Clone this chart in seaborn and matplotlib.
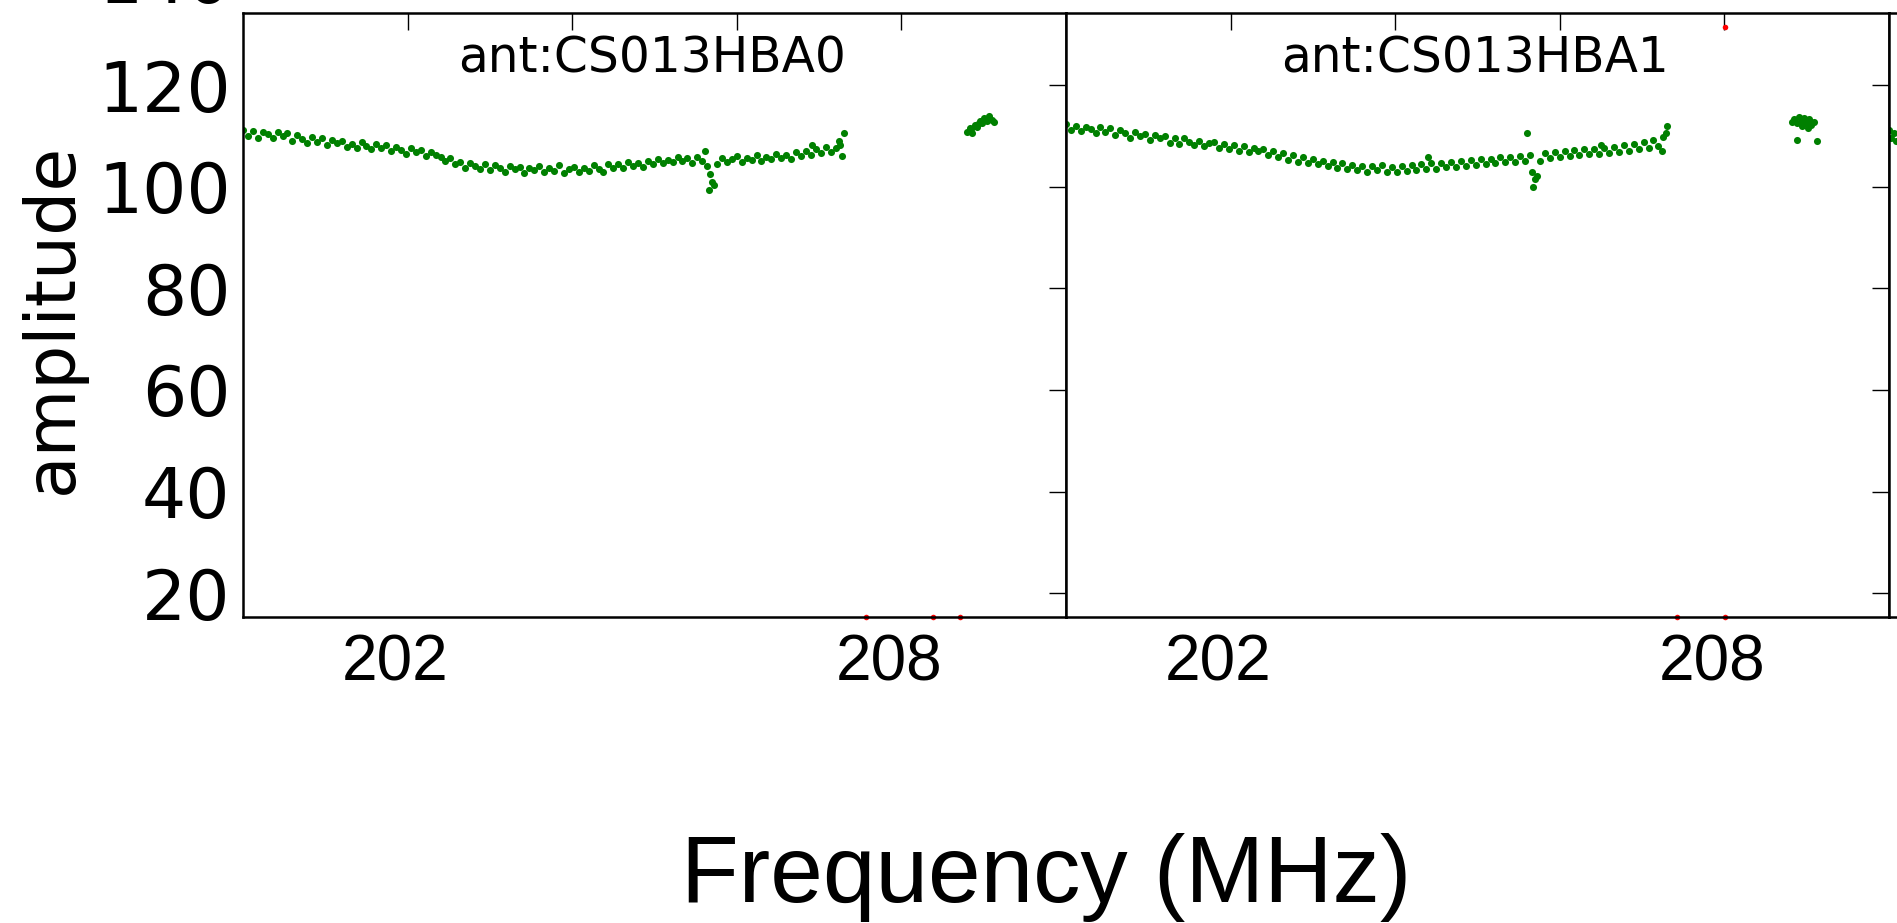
import numpy as np
import pandas as pd
import matplotlib
matplotlib.use("Agg")
import matplotlib.pyplot as plt
import matplotlib.transforms as mtransforms
import seaborn as sns

# channel frequencies (MHz), shared by both antennas
chan_freq = [
    200.00, 200.06, 200.12, 200.18, 200.24, 200.30, 200.36, 200.42, 200.48, 200.54,
    200.60, 200.66, 200.72, 200.78, 200.84, 200.90, 200.96, 201.02, 201.08, 201.14,
    201.20, 201.26, 201.32, 201.38, 201.44, 201.50, 201.56, 201.62, 201.68, 201.74,
    201.80, 201.86, 201.92, 201.98, 202.04, 202.10, 202.16, 202.22, 202.28, 202.34,
    202.40, 202.46, 202.52, 202.58, 202.64, 202.70, 202.76, 202.82, 202.88, 202.94,
    203.00, 203.06, 203.12, 203.18, 203.24, 203.30, 203.36, 203.42, 203.48, 203.54,
    203.60, 203.66, 203.72, 203.78, 203.84, 203.90, 203.96, 204.02, 204.08, 204.14,
    204.20, 204.26, 204.32, 204.38, 204.44, 204.50, 204.56, 204.62, 204.68, 204.74,
    204.80, 204.86, 204.92, 204.98, 205.04, 205.10, 205.16, 205.22, 205.28, 205.34,
    205.40, 205.46, 205.52, 205.58, 205.64, 205.70, 205.76, 205.82, 205.88, 205.94,
    206.00, 206.06, 206.12, 206.18, 206.24, 206.30, 206.36, 206.42, 206.48, 206.54,
    206.60, 206.66, 206.72, 206.78, 206.84, 206.90, 206.96, 207.02, 207.08, 207.14,
    207.20, 207.26,
]

hba0_amp = [
    111.2, 110.0, 110.9, 109.6, 110.7, 110.3, 109.5, 110.8, 109.9, 110.5,
    109.1, 110.2, 109.4, 108.7, 109.8, 108.9, 109.5, 108.3, 109.2, 108.6,
    109.1, 107.9, 108.5, 107.6, 108.9, 108.0, 107.4, 108.4, 107.7, 108.3,
    107.0, 107.9, 107.3, 106.5, 107.6, 106.8, 107.2, 106.1, 106.9, 106.3,
    105.9, 105.0, 105.6, 104.4, 104.9, 103.7, 104.6, 104.0, 103.5, 104.5,
    103.2, 104.3, 103.6, 102.9, 104.1, 103.4, 103.9, 102.8, 103.7, 103.3,
    104.0, 102.9, 103.6, 103.1, 104.2, 102.8, 103.4, 103.8, 102.9, 103.6,
    103.1, 104.2, 103.5, 103.0, 104.4, 103.7, 104.5, 103.6, 104.8, 104.0,
    104.7, 103.9, 105.1, 104.4, 105.5, 104.6, 105.3, 104.8, 105.9, 105.0,
    105.6, 104.7, 105.9, 105.1, 104.0, 101.0, 104.5, 105.7, 104.9, 105.4,
    106.0, 104.9, 105.7, 105.2, 106.3, 105.0, 105.9, 105.4, 106.5, 105.6,
    106.2, 105.5, 106.9, 106.0, 107.1, 106.3, 107.4, 106.6, 107.8, 106.9,
    107.6, 108.3,
]

hba1_amp = [
    112.4, 111.2, 112.0, 110.9, 111.8, 111.3, 110.6, 111.7, 110.8, 111.5,
    110.2, 111.1, 110.5, 109.6, 110.8, 109.9, 110.4, 109.2, 110.1, 109.5,
    110.0, 108.7, 109.5, 108.4, 109.6, 108.8, 108.2, 109.1, 108.0, 108.6,
    108.9, 107.7, 108.5, 107.4, 108.2, 107.1, 108.0, 106.9, 107.6, 107.0,
    107.4, 106.2, 107.0, 105.8, 106.6, 105.3, 106.2, 104.9, 105.8, 104.7,
    105.5, 104.4, 105.1, 104.0, 104.9, 103.7, 104.6, 103.5, 104.3, 103.3,
    104.1, 103.0, 104.0, 103.2, 104.2, 102.9, 103.8, 103.0, 104.0, 103.1,
    104.2, 103.2, 104.4, 103.4, 104.6, 103.5, 104.7, 103.8, 104.9, 103.9,
    105.0, 104.0, 105.2, 104.3, 105.4, 104.4, 105.5, 104.6, 105.8, 104.8,
    105.9, 104.9, 106.1, 105.1, 106.3, 101.5, 105.0, 106.6, 105.6, 106.8,
    105.8, 107.0, 106.1, 107.2, 106.2, 107.4, 106.4, 107.5, 106.5, 107.6,
    106.7, 107.9, 106.9, 108.2, 107.1, 108.5, 107.4, 108.8, 107.7, 109.2,
    108.1, 109.8,
]

# stray channels and the separate band near 209 MHz
hba0_extra_freq = [205.66, 205.68, 205.72, 205.62, 207.30, 207.28, 207.24, 206.92,
                   208.80, 208.83, 208.86, 208.89, 208.92, 208.95, 208.98, 209.01,
                   209.04, 209.07, 209.10, 208.85, 208.93, 209.12]
hba0_extra_amp = [99.4, 102.6, 100.3, 107.0, 110.6, 106.0, 109.0, 108.2,
                  110.8, 111.6, 110.6, 112.2, 111.8, 112.9, 112.5, 113.6,
                  113.0, 114.0, 113.2, 111.3, 112.4, 112.7]

hba1_extra_freq = [205.60, 205.66, 205.68, 205.72, 207.30, 207.29, 207.24, 204.40, 206.50,
                   208.82, 208.85, 208.88, 208.91, 208.94, 208.97, 209.00, 209.03,
                   209.06, 209.09, 208.88, 209.13, 208.95, 209.02]
hba1_extra_amp = [110.6, 103.0, 100.0, 102.2, 112.0, 110.5, 107.0, 105.8, 108.3,
                  112.8, 113.4, 112.5, 113.8, 113.0, 113.5, 112.6, 113.3,
                  112.2, 112.7, 109.3, 109.0, 111.9, 111.6]

# flagged points (red)
hba0_flag_freq = [207.57, 208.38, 208.71]
hba0_flag_amp = [15.3, 15.3, 15.3]
hba1_flag_freq = [207.43, 208.01, 208.01]
hba1_flag_amp = [15.3, 15.3, 131.5]

# first channels of the next antenna panel (cut off at the right edge)
next_freq = [200.00, 200.03, 200.06, 200.09]
next_amp = [111.2, 109.6, 110.6, 109.0]

ytick_vals = [20, 40, 60, 80, 100, 120]
xtick_vals = [202, 204, 206, 208]
xtick_text = ["202", "", "", "208"]

sns.set_style("white")
plt.rcParams['font.family'] = ['DejaVu Sans']
plt.rcParams['text.color'] = 'black'
plt.rcParams['xtick.color'] = 'black'
plt.rcParams['ytick.color'] = 'black'
plt.rcParams['axes.labelcolor'] = 'black'

fig = plt.figure(figsize=(18.97, 9.23), dpi=100)
w, h, b = 0.4338, 0.6544, 0.3315
ax0 = fig.add_axes([0.1281, b, w, h])
ax1 = fig.add_axes([0.5619, b, w, h])
ax2 = fig.add_axes([0.9957, b, w, h])

panels = [
    (ax0, hba0_amp, hba0_extra_freq, hba0_extra_amp, hba0_flag_freq, hba0_flag_amp, "ant:CS013HBA0"),
    (ax1, hba1_amp, hba1_extra_freq, hba1_extra_amp, hba1_flag_freq, hba1_flag_amp, "ant:CS013HBA1"),
]

for ax, amp, ef, ea, ff, fa, name in panels:
    df = pd.DataFrame({'freq': chan_freq + ef, 'amp': amp + ea})
    sns.scatterplot(data=df, x='freq', y='amp', ax=ax, color='green', s=26,
                    linewidth=0, legend=False)
    sns.scatterplot(x=ff, y=fa, ax=ax, color='red', s=16, linewidth=0,
                    legend=False, clip_on=False)
    ax.text(0.497, 0.925, name, transform=ax.transAxes, ha='center', va='center',
            fontsize=35, color='black')

sns.scatterplot(x=next_freq, y=next_amp, ax=ax2, color='green', s=26, linewidth=0,
                legend=False)

for ax in [ax0, ax1, ax2]:
    ax.set_xlim(200, 210)
    ax.set_ylim(15.3, 134.2)
    ax.set_xticks(xtick_vals)
    ax.set_yticks(ytick_vals)
    ax.set_xlabel('')
    ax.set_ylabel('')
    ax.tick_params(direction='in', length=12, width=1, top=True, right=True,
                   labelleft=False, labelbottom=False, colors='black')
    for sp in ax.spines.values():
        sp.set_visible(True)
        sp.set_color('black')
        sp.set_linewidth(1.8)

ax0.tick_params(axis='y', labelleft=True, labelsize=50, pad=9)
for ax in [ax0, ax1]:
    ax.tick_params(axis='x', labelbottom=True, labelsize=46, pad=12)
    ax.set_xticklabels(xtick_text, family=['Liberation Sans', 'DejaVu Sans'])
    shift = mtransforms.ScaledTranslation(-12 / 100, 0, fig.dpi_scale_trans)
    for lab in ax.get_xticklabels():
        lab.set_transform(lab.get_transform() + shift)

# the 140 label sits above the axes and is cut by the figure edge
ax0.annotate("140", xy=(0, 140), xycoords=('axes fraction', 'data'),
             xytext=(-9, 0), textcoords='offset points', ha='right', va='center',
             fontsize=50, annotation_clip=False, color='black')

fig.text(52 / 1897, 1 - 318 / 923, 'amplitude', rotation=90, ha='center',
         va='center', fontsize=50, color='black')
fig.text(0.5514, 0.0488, 'Frequency (MHz)', ha='center', va='center',
         fontsize=68, family=['Liberation Sans', 'DejaVu Sans'], color='black')

fig.savefig('out.png', dpi=100)
